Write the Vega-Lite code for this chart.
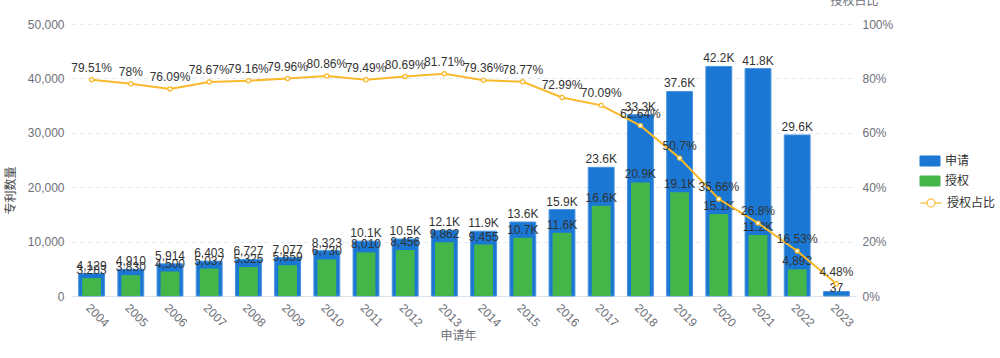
{
  "$schema": "https://vega.github.io/schema/vega-lite/v6.json",
  "width": 784,
  "height": 272,
  "autosize": {"type": "none"},
  "padding": {"left": 72, "top": 24, "right": 144, "bottom": 62},
  "config": {
    "font": "Liberation Sans, Noto Sans CJK SC, sans-serif",
    "view": {"stroke": null},
    "legend": {
      "orient": "none",
      "legendX": 848,
      "padding": 0,
      "rowPadding": 0,
      "symbolSize": 400,
      "labelOffset": 5,
      "labelFontSize": 12,
      "labelColor": "#333333"
    }
  },
  "data": {
    "values": [
      {"year": "2004", "app": 4129, "grant": 3283, "ratio": 79.51},
      {"year": "2005", "app": 4910, "grant": 3830, "ratio": 78},
      {"year": "2006", "app": 5914, "grant": 4500, "ratio": 76.09},
      {"year": "2007", "app": 6403, "grant": 5037, "ratio": 78.67},
      {"year": "2008", "app": 6727, "grant": 5325, "ratio": 79.16},
      {"year": "2009", "app": 7077, "grant": 5659, "ratio": 79.96},
      {"year": "2010", "app": 8323, "grant": 6730, "ratio": 80.86},
      {"year": "2011", "app": 10077, "grant": 8010, "ratio": 79.49},
      {"year": "2012", "app": 10480, "grant": 8456, "ratio": 80.69},
      {"year": "2013", "app": 12070, "grant": 9862, "ratio": 81.71},
      {"year": "2014", "app": 11914, "grant": 9455, "ratio": 79.36},
      {"year": "2015", "app": 13600, "grant": 10713, "ratio": 78.77},
      {"year": "2016", "app": 15900, "grant": 11605, "ratio": 72.99},
      {"year": "2017", "app": 23650, "grant": 16576, "ratio": 70.09},
      {"year": "2018", "app": 33340, "grant": 20884, "ratio": 62.64},
      {"year": "2019", "app": 37600, "grant": 19063, "ratio": 50.7},
      {"year": "2020", "app": 42200, "grant": 15060, "ratio": 35.66},
      {"year": "2021", "app": 41800, "grant": 11202, "ratio": 26.8},
      {"year": "2022", "app": 29600, "grant": 4893, "ratio": 16.53},
      {"year": "2023", "app": 826, "grant": 37, "ratio": 4.48}
    ]
  },
  "transform": [
    {"calculate": "datum.app >= 10000 ? format(datum.app / 1000, '.1f') + 'K' : format(datum.app, ',')", "as": "appLabel"},
    {"calculate": "datum.grant >= 10000 ? format(datum.grant / 1000, '.1f') + 'K' : format(datum.grant, ',')", "as": "grantLabel"},
    {"calculate": "datum.ratio + '%'", "as": "ratioLabel"}
  ],
  "encoding": {
    "x": {
      "field": "year",
      "type": "ordinal",
      "scale": {"paddingInner": 0, "paddingOuter": 0},
      "title": "申请年",
      "axis": {
        "labelAngle": 45,
        "labelFontSize": 12,
        "labelColor": "#6E7079",
        "labelPadding": 6,
        "ticks": false,
        "domainColor": "#DDE2EB",
        "titleFontSize": 12,
        "titleFontWeight": "normal",
        "titleColor": "#6E7079",
        "titleX": 386,
        "titleY": 39,
        "titleBaseline": "middle",
        "titleAlign": "center"
      }
    }
  },
  "layer": [
    {
      "encoding": {
        "y": {
          "type": "quantitative",
          "scale": {"domain": [0, 50000]},
          "title": "专利数量",
          "axis": {
            "orient": "left", "values": [0, 10000, 20000, 30000, 40000, 50000], "labelExpr": "format(datum.value, ',')",
            "domain": false, "ticks": false, "labelPadding": 8, "labelFontSize": 12, "labelColor": "#6E7079",
            "grid": true, "gridDash": [4, 4], "gridColor": "#E0E6F1",
            "titleFontSize": 12, "titleFontWeight": "normal", "titleColor": "#464646",
            "titleX": -62, "titleY": 166, "titleAlign": "center", "titleBaseline": "middle"
          }
        }
      },
      "layer": [
        {
          "mark": {"type": "bar", "width": {"band": 0.66}, "stroke": "#4A93DE", "strokeWidth": 1},
          "encoding": {
            "y": {"field": "app"},
            "color": {
              "datum": "申请",
              "scale": {"domain": ["申请", "授权"], "range": ["#1A77D4", "#44B649"]},
              "legend": {
                "title": null,
                "legendY": 127,
                "rowPadding": 4,
                "symbolType": "M-0.92,-0.55H0.92Q1.05,-0.55 1.05,-0.42V0.42Q1.05,0.55 0.92,0.55H-0.92Q-1.05,0.55 -1.05,0.42V-0.42Q-1.05,-0.55 -0.92,-0.55Z",
                "symbolStrokeWidth": 0
              }
            }
          }
        },
        {
          "mark": {"type": "bar", "width": {"band": 0.48}},
          "encoding": {
            "y": {"field": "grant"},
            "color": {"datum": "授权"}
          }
        },
        {
          "transform": [{"filter": "datum.app >= 1000"}],
          "mark": {"type": "text", "baseline": "bottom", "dy": -1, "fontSize": 12, "color": "#333333"},
          "encoding": {
            "y": {"field": "app"},
            "text": {"field": "appLabel"}
          }
        },
        {
          "mark": {"type": "text", "baseline": "bottom", "dy": -1, "fontSize": 12, "color": "#333333"},
          "encoding": {
            "y": {"field": "grant"},
            "text": {"field": "grantLabel"}
          }
        }
      ]
    },
    {
      "encoding": {
        "y": {
          "type": "quantitative",
          "scale": {"domain": [0, 100]},
          "title": "授权占比",
          "axis": {
            "orient": "right", "values": [0, 20, 40, 60, 80, 100], "labelExpr": "datum.value + '%'",
            "domain": false, "ticks": false, "grid": false, "labelPadding": 6, "labelFontSize": 12, "labelColor": "#6E7079",
            "titleAngle": 0, "titleX": -2, "titleY": -24, "titleAlign": "center", "titleBaseline": "middle",
            "titleFontSize": 12, "titleFontWeight": "normal", "titleColor": "#6E7079"
          }
        }
      },
      "layer": [
        {
          "mark": {"type": "line", "strokeWidth": 2, "color": "#F9B92B"},
          "encoding": {
            "y": {"field": "ratio"}
          }
        },
        {
          "mark": {"type": "point", "filled": true, "fill": "#ffffff", "stroke": "#F9B92B", "strokeWidth": 1.2, "size": 18, "opacity": 1},
          "encoding": {
            "y": {"field": "ratio"}
          }
        },
        {
          "mark": {"type": "point", "filled": false, "stroke": "#FAC858", "opacity": 0},
          "encoding": {
            "y": {"field": "ratio"},
            "shape": {
              "datum": "授权占比",
              "scale": {"domain": ["授权占比"], "range": ["M-1.05,0H-0.4M0.4,0H1.05M0.4,0A0.4,0.4 0 1,1 -0.4,0A0.4,0.4 0 1,1 0.4,0"]},
              "legend": {
                "title": null,
                "legendY": 168,
                "encode": {
                  "symbols": {
                    "update": {
                      "fill": {"value": "#ffffff"},
                      "stroke": {"value": "#FAC858"},
                      "strokeWidth": {"value": 1.5},
                      "opacity": {"value": 1},
                      "fillOpacity": {"value": 1},
                      "strokeOpacity": {"value": 1}
                    }
                  }
                }
              }
            }
          }
        },
        {
          "mark": {"type": "text", "baseline": "bottom", "dy": -5, "fontSize": 12, "color": "#333333"},
          "encoding": {
            "y": {"field": "ratio"},
            "text": {"field": "ratioLabel"}
          }
        }
      ]
    }
  ],
  "resolve": {"scale": {"y": "independent"}}
}
